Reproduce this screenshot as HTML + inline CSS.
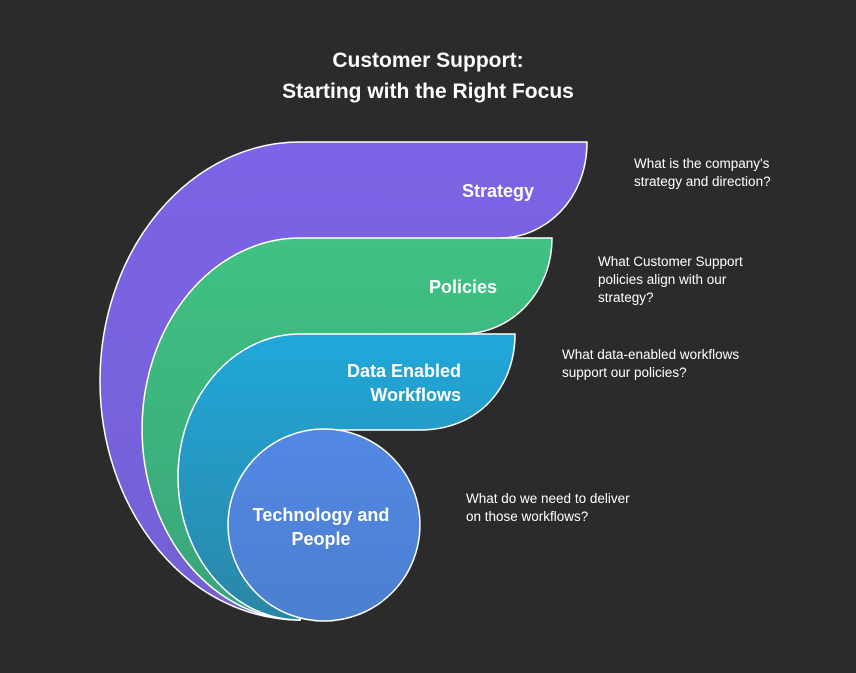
<!DOCTYPE html>
<html><head><style>
html,body{margin:0;padding:0;background:#2b2b2b;}
body{width:856px;height:668px;overflow:hidden;}
svg text{font-family:"Liberation Sans",Arial,sans-serif;}
</style></head><body>
<svg width="856" height="668" viewBox="0 0 856 668" xmlns="http://www.w3.org/2000/svg">
<defs>
<linearGradient id="gp" x1="0" y1="0" x2="0" y2="1"><stop offset="0" stop-color="#7d63e6"/><stop offset="1" stop-color="#7460d4"/></linearGradient>
<linearGradient id="gg" x1="0" y1="0" x2="0" y2="1"><stop offset="0" stop-color="#3fc282"/><stop offset="1" stop-color="#3aa37a"/></linearGradient>
<linearGradient id="gb" x1="0" y1="0" x2="0" y2="1"><stop offset="0" stop-color="#20a8da"/><stop offset="1" stop-color="#2a86a6"/></linearGradient>
<linearGradient id="gc" x1="0" y1="0" x2="0" y2="1"><stop offset="0" stop-color="#5288e4"/><stop offset="1" stop-color="#4c7fcf"/></linearGradient>
</defs>
<rect width="856" height="668" fill="#2b2b2b"/>
<text x="428" y="67" text-anchor="middle" fill="#fff" font-size="21" font-weight="bold">Customer Support:</text>
<text x="428" y="98" text-anchor="middle" fill="#fff" font-size="21" font-weight="bold">Starting with the Right Focus</text>

<path d="M300,620 A200,239 0 0 1 300,142 L587,142 C587,200 545,238 500,238 L480,300 L324,420 L324,470 L300,620 Z" fill="url(#gp)" stroke="#fff" stroke-width="1.5"/>
<path d="M300,620 A158,191 0 0 1 300,238 L552,238 C552,292 512,334 462,334 L440,380 L324,420 L324,470 L300,620 Z" fill="url(#gg)" stroke="#fff" stroke-width="1.5"/>
<path d="M300,620 A122,143 0 0 1 300,334 L515,334 C515,388 478,430 420,430 L324,430 L324,470 L300,620 Z" fill="url(#gb)" stroke="#fff" stroke-width="1.5"/>
<circle cx="324" cy="525" r="96" fill="url(#gc)" stroke="#fff" stroke-width="1.5"/>

<g fill="#fff" font-size="18" font-weight="bold" text-anchor="end">
<text x="534" y="197">Strategy</text>
<text x="497" y="293">Policies</text>
<text x="461" y="377">Data Enabled</text>
<text x="461" y="401">Workflows</text>
</g>
<g fill="#fff" font-size="18" font-weight="bold" text-anchor="middle">
<text x="321" y="521">Technology and</text>
<text x="321" y="545">People</text>
</g>
<g fill="#fff" font-size="13.5">
<text x="634" y="168">What is the company's</text>
<text x="634" y="186">strategy and direction?</text>
<text x="598" y="266">What Customer Support</text>
<text x="598" y="284">policies align with our</text>
<text x="598" y="302">strategy?</text>
<text x="562" y="359">What data-enabled workflows</text>
<text x="562" y="377">support our policies?</text>
<text x="466" y="503">What do we need to deliver</text>
<text x="466" y="521">on those workflows?</text>
</g>
</svg>
</body></html>
